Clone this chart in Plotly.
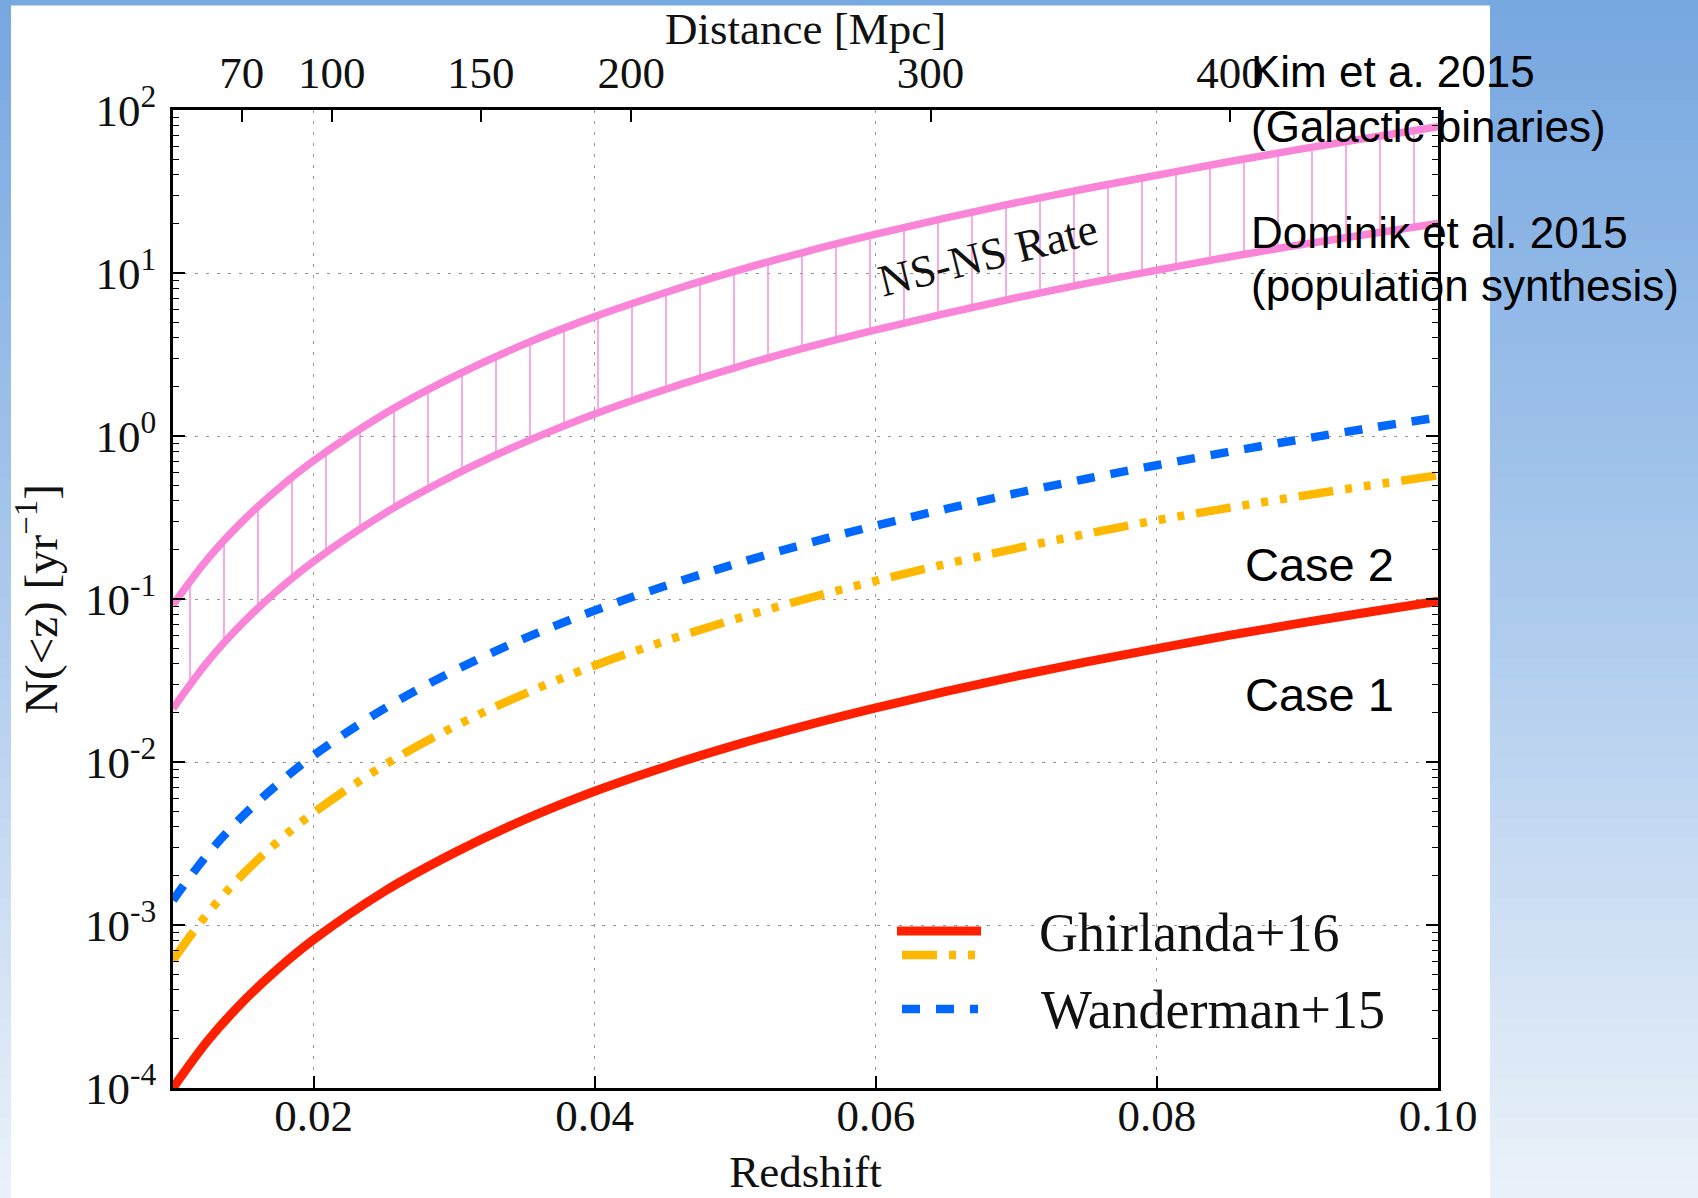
import plotly.graph_objects as go

# ---- data -------------------------------------------------------------
redshift = [0.010, 0.0125, 0.015, 0.0175, 0.020, 0.025, 0.030, 0.035, 0.040, 0.045, 0.050, 0.055,
            0.060, 0.065, 0.070, 0.075, 0.080, 0.085, 0.090, 0.095, 0.100]

# NS-NS merger rate band: Kim et al. 2015 (upper), Dominik et al. 2015 (lower)
nsns_upper = [0.092, 0.1774, 0.303, 0.476, 0.705, 1.36, 2.32, 3.66, 5.4, 7.57, 10.26, 13.5,
              17.3, 21.8, 27.0, 33.0, 39.8, 48.0, 57.1, 67.4, 79.0]
nsns_lower = [0.0213, 0.0416, 0.0718, 0.114, 0.170, 0.333, 0.575, 0.914, 1.365, 1.93, 2.63, 3.48,
              4.48, 5.66, 7.05, 8.63, 10.4, 12.5, 14.8, 17.3, 20.1]

# short GRB based rates
ghirlanda_case1 = [1.0e-4, 1.963e-4, 3.40e-4, 5.42e-4, 8.13e-4, 1.60e-3, 2.77e-3, 4.43e-3, 6.62e-3, 9.33e-3,
                   0.01268, 0.01671, 0.02148, 0.0271, 0.03365, 0.0411, 0.0496, 0.0596, 0.0706, 0.0830, 0.0968]
ghirlanda_case2 = [6.1e-4, 1.19e-3, 2.06e-3, 3.27e-3, 4.88e-3, 9.53e-3, 0.01648, 0.0262, 0.0391, 0.0552,
                   0.0753, 0.100, 0.1294, 0.164, 0.2046, 0.2512, 0.304, 0.361, 0.425, 0.495, 0.574]
wanderman15 = [1.42e-3, 2.74e-3, 4.69e-3, 7.38e-3, 0.01096, 0.0212, 0.0363, 0.0573, 0.0849, 0.1202,
               0.164, 0.2178, 0.2818, 0.357, 0.4457, 0.547, 0.662, 0.796, 0.946, 1.114, 1.30]

# bottom axis (redshift) ticks
z_ticks = [0.02, 0.04, 0.06, 0.08, 0.10]
z_ticktext = ["0.02", "0.04", "0.06", "0.08", "0.10"]

# top axis (distance) ticks, placed at the corresponding redshift
distance_ticktext = ["70", "100", "150", "200", "300", "400"]
distance_tick_z = [0.0149, 0.0213, 0.0319, 0.0426, 0.0639, 0.0852]

# y axis decades
n_ticks = [1e-4, 1e-3, 1e-2, 1e-1, 1e0, 1e1, 1e2]
n_ticktext = ["10<sup>-4</sup>", "10<sup>-3</sup>", "10<sup>-2</sup>", "10<sup>-1</sup>",
              "10<sup>0</sup>", "10<sup>1</sup>", "10<sup>2</sup>"]

# ---- styling ----------------------------------------------------------
W, H = 1698, 1198
PL, PR, PT, PB = 173, 1438, 110, 1088   # plot area in pixels
SERIF = "Liberation Serif"
SANS = "Liberation Sans"

PINK = "rgb(250,132,216)"
RED = "rgb(255,32,0)"
ORANGE = "rgb(255,184,0)"
BLUE = "rgb(0,104,255)"
DASHDOT3 = "35px,12px,7px,12px,7px,12px,7px,12px"
DASHED = "18px,16px"


def fx(px):
    return (px - PL) / (PR - PL)


def fy(py):
    return (PB - py) / (PB - PT)


fig = go.Figure()

# NS-NS band with vertical hatching
fig.add_trace(go.Scatter(
    x=redshift, y=nsns_upper, mode="lines", line=dict(color=PINK, width=7.5, shape="spline"),
    showlegend=False, hoverinfo="skip"))
fig.add_trace(go.Scatter(
    x=redshift, y=nsns_lower, mode="lines", line=dict(color=PINK, width=7.5, shape="spline"),
    fill="tonexty", fillcolor="rgba(0,0,0,0)",
    fillpattern=dict(shape="|", size=34, solidity=0.045, fgcolor=PINK, fgopacity=0.9,
                     bgcolor="rgba(0,0,0,0)"),
    showlegend=False, hoverinfo="skip"))

fig.add_trace(go.Scatter(
    x=redshift, y=wanderman15, mode="lines",
    line=dict(color=BLUE, width=8.5, dash=DASHED, shape="spline"), showlegend=False))
fig.add_trace(go.Scatter(
    x=redshift, y=ghirlanda_case2, mode="lines",
    line=dict(color=ORANGE, width=8.5, dash=DASHDOT3, shape="spline"), showlegend=False))
fig.add_trace(go.Scatter(
    x=redshift, y=ghirlanda_case1, mode="lines",
    line=dict(color=RED, width=9, shape="spline"), showlegend=False))

# ---- slide background: vertical blue gradient behind a white card ------
shapes = []
N_BANDS = 60
top_c = (118, 167, 224)
mid_c = (172, 202, 237)
bot_c = (236, 242, 250)
for i in range(N_BANDS):
    t = (i + 0.5) / N_BANDS
    if t < 0.5:
        a, b, u = top_c, mid_c, t / 0.5
    else:
        a, b, u = mid_c, bot_c, (t - 0.5) / 0.5
    c = tuple(round(a[k] + (b[k] - a[k]) * u) for k in range(3))
    y0 = i * H / N_BANDS
    y1 = (i + 1) * H / N_BANDS + 1
    shapes.append(dict(type="rect", xref="paper", yref="paper", layer="below",
                       x0=fx(0), x1=fx(W), y0=fy(y1), y1=fy(y0),
                       line=dict(width=0), fillcolor="rgb(%d,%d,%d)" % c))
shapes.append(dict(type="rect", xref="paper", yref="paper", layer="below",
                   x0=fx(11), x1=fx(1490), y0=fy(H + 2), y1=fy(5.5),
                   line=dict(width=0), fillcolor="white"))

# legend samples
shapes.append(dict(type="line", xref="paper", yref="paper", x0=fx(897), x1=fx(981),
                   y0=fy(931), y1=fy(931), line=dict(color=RED, width=9)))
shapes.append(dict(type="line", xref="paper", yref="paper", x0=fx(902), x1=fx(978),
                   y0=fy(955), y1=fy(955), line=dict(color=ORANGE, width=8.5, dash=DASHDOT3)))
shapes.append(dict(type="line", xref="paper", yref="paper", x0=fx(902), x1=fx(978),
                   y0=fy(1009), y1=fy(1009), line=dict(color=BLUE, width=8.5, dash=DASHED)))

annotations = [
    dict(text="Ghirlanda+16", x=fx(1037), y=fy(933), xanchor="left", yanchor="middle",
         font=dict(family=SERIF, size=54, color="#111")),
    dict(text="Wanderman+15", x=fx(1039), y=fy(1010), xanchor="left", yanchor="middle",
         font=dict(family=SERIF, size=54, color="#111")),
    dict(text="NS-NS Rate", x=fx(988), y=fy(255), xanchor="center", yanchor="middle",
         textangle=-14, font=dict(family=SERIF, size=45, color="#111")),
    dict(text="Case 2", x=fx(1243), y=fy(564), xanchor="left", yanchor="middle",
         font=dict(family=SANS, size=47, color="black")),
    dict(text="Case 1", x=fx(1243), y=fy(694), xanchor="left", yanchor="middle",
         font=dict(family=SANS, size=47, color="black")),
    dict(text="Kim et a. 2015", x=fx(1249), y=fy(72), xanchor="left", yanchor="middle",
         font=dict(family=SANS, size=44, color="black")),
    dict(text="(Galactic binaries)", x=fx(1249), y=fy(126), xanchor="left", yanchor="middle",
         font=dict(family=SANS, size=44, color="black")),
    dict(text="Dominik et al. 2015", x=fx(1249), y=fy(232), xanchor="left", yanchor="middle",
         font=dict(family=SANS, size=44, color="black")),
    dict(text="(population synthesis)", x=fx(1249), y=fy(285), xanchor="left", yanchor="middle",
         font=dict(family=SANS, size=44, color="black")),
    # title of the top (distance) axis
    dict(text="Distance [Mpc]", x=0.5, y=fy(29), xanchor="center", yanchor="middle",
         font=dict(family=SERIF, size=45, color="#111")),
]
for a in annotations:
    a.update(xref="paper", yref="paper", showarrow=False)

tickfont = dict(family=SERIF, size=45, color="#111")
grid = dict(showgrid=True, gridcolor="rgb(150,150,150)", gridwidth=1.3, griddash="3px,8px")

fig.update_layout(
    template="none",
    width=W, height=H,
    margin=dict(l=PL, r=W - PR, t=PT, b=H - PB, pad=0),
    paper_bgcolor="white", plot_bgcolor="white",
    shapes=shapes, annotations=annotations,
    xaxis=dict(
        range=[0.01, 0.10], tickmode="array", tickvals=z_ticks, ticktext=z_ticktext,
        ticks="inside", ticklen=12, tickwidth=1.5, tickcolor="black", automargin=False,
        showline=True, linewidth=2.5, linecolor="black", mirror=True, zeroline=False,
        tickfont=tickfont, ticklabelstandoff=-14,
        title=dict(text="Redshift", font=tickfont, standoff=16), **grid),
    xaxis2=dict(
        overlaying="x", side="top", anchor="y", range=[0.01, 0.10], automargin=False,
        tickmode="array", tickvals=distance_tick_z, ticktext=distance_ticktext,
        ticks="inside", ticklen=12, tickwidth=1.5, tickcolor="black",
        showline=False, showgrid=False, zeroline=False, tickfont=tickfont,
        ticklabelstandoff=12),
    yaxis=dict(
        type="log", range=[-4, 2], tickmode="array", tickvals=n_ticks, ticktext=n_ticktext,
        ticks="inside", ticklen=12, tickwidth=1.5, tickcolor="black", automargin=False,
        minor=dict(ticks="inside", ticklen=6, tickwidth=1.2, tickcolor="black", dtick="D1",
                   showgrid=False),
        showline=True, linewidth=2.5, linecolor="black", mirror="ticks", zeroline=False,
        tickfont=tickfont, ticklabelstandoff=5,
        title=dict(text="N(&lt;z) [yr<sup>\u22121</sup>]",
                   font=dict(family=SERIF, size=47, color="#111"), standoff=13), **grid),
)

# invisible point so the top distance axis is rendered
fig.add_trace(go.Scatter(x=[0.05], y=[1], xaxis="x2", mode="markers",
                         marker=dict(opacity=0), showlegend=False, hoverinfo="skip"))

fig.write_html("out.html")
